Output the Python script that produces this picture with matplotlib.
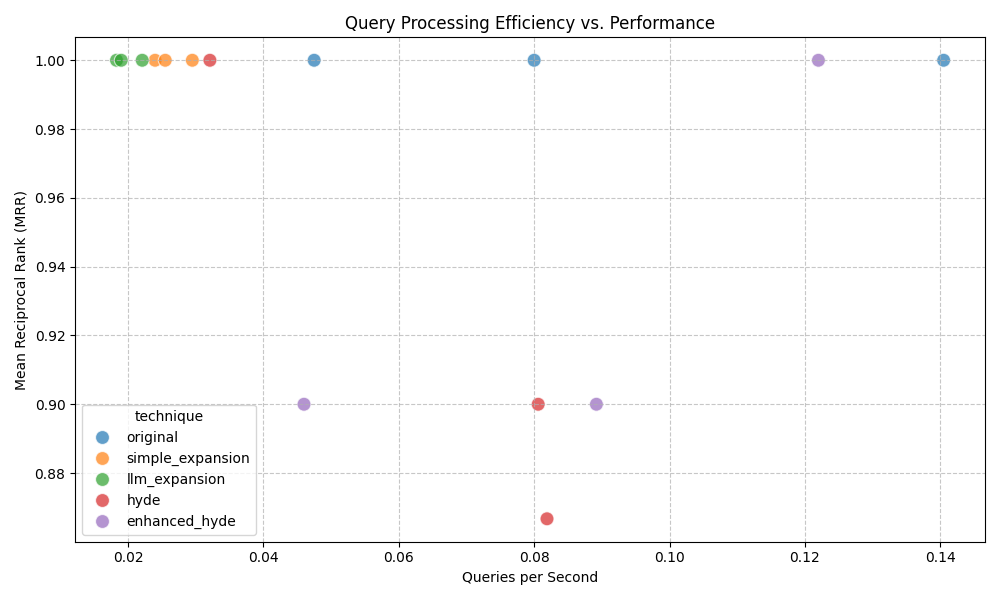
import matplotlib
matplotlib.use("Agg")
import matplotlib.pyplot as plt
import seaborn as sns
import pandas as pd

techniques = ["original"] * 3 + ["simple_expansion"] * 3 + ["llm_expansion"] * 3 + ["hyde"] * 3 + ["enhanced_hyde"] * 3
qps = [0.0475, 0.0800, 0.1405,
       0.0240, 0.0255, 0.0295,
       0.0183, 0.0190, 0.0221,
       0.0321, 0.0806, 0.0819,
       0.0460, 0.0892, 0.1220]
mrr = [1.0, 1.0, 1.0,
       1.0, 1.0, 1.0,
       1.0, 1.0, 1.0,
       1.0, 0.9, 0.8667,
       0.9, 0.9, 1.0]

df = pd.DataFrame({"technique": techniques, "qps": qps, "mrr": mrr})

plt.figure(figsize=(10, 6))
sns.scatterplot(data=df, x="qps", y="mrr", hue="technique", s=100, alpha=0.7)
plt.title("Query Processing Efficiency vs. Performance")
plt.xlabel("Queries per Second")
plt.ylabel("Mean Reciprocal Rank (MRR)")
plt.grid(True, linestyle="--", alpha=0.7)
plt.tight_layout()
plt.savefig("out.png", dpi=100)
plt.close()
